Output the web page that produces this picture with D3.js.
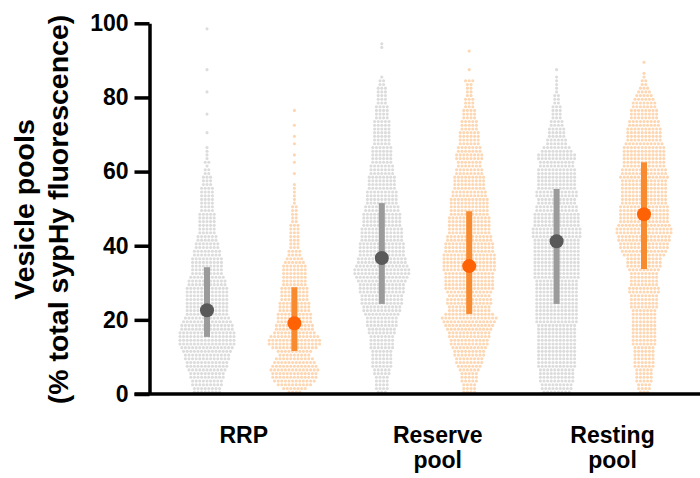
<!DOCTYPE html>
<html>
<head>
<meta charset="utf-8">
<script src="https://cdn.jsdelivr.net/npm/d3@7"></script>
<style>
  html, body { margin: 0; padding: 0; background: #fff; }
  svg { display: block; font-family: "Liberation Sans", Arial, sans-serif; }
</style>
</head>
<body>
<svg id="chart" width="700" height="478"></svg>
<script>
// categories and y ticks
const categories = ["RRP", "Reserve pool", "Resting pool"];
const yTicks = [0, 20, 40, 60, 80, 100];

// number of cells per 1-% bin, starting at bin 0-1
const rrpGrey = [8,8,9,9,10,10,11,12,12,13,13,14,15,16,16,16,16,15,15,14,13,12,12,12,12,12,12,12,12,11,
  11,10,9,9,9,9,9,8,8,7,7,6,6,5,5,5,5,5,5,4,4,4,4,4,4,4,3,3,3,2,2,1,2,1,1,1,1,0,0,0,
  1,0,0,0,0,1,0,0,0,0,0,1,0,0,0,0,0,1,0,0,0,0,0,0,0,0,0,0,1];
const rrpOrange = [4,7,10,12,13,13,14,13,12,11,9,10,13,15,15,14,12,11,11,10,10,10,9,9,9,8,8,8,8,7,
  7,7,7,7,7,6,5,4,4,3,3,3,3,3,3,3,2,2,2,2,2,1,1,1,1,1,1,0,0,1,0,0,1,0,1,0,0,1,0,1,
  0,0,1,0,0,0,1];
const reserveGrey = [3,4,4,4,4,5,5,6,6,6,6,6,7,7,7,7,8,8,9,9,9,10,11,11,12,12,12,13,13,13,
  14,15,16,16,15,14,14,13,13,13,13,12,12,12,12,11,11,11,11,10,10,9,9,9,9,8,8,8,8,7,
  7,7,6,6,6,6,6,5,5,5,5,5,5,5,4,4,4,4,3,3,3,3,3,2,2,1,0,0,0,0,0,0,0,1,1];
const reserveOrange = [4,4,4,5,5,5,6,7,8,8,9,9,10,11,11,12,12,13,14,15,16,14,12,12,13,13,12,13,14,14,
  14,14,14,15,15,15,15,15,14,14,14,13,13,12,12,12,12,12,11,11,11,11,11,10,10,9,9,9,9,8,
  8,7,7,8,8,7,7,6,6,6,6,5,5,5,4,4,4,3,3,3,2,2,2,2,3,0,0,1,0,0,0,0,1];
const restingGrey = [8,9,9,10,10,10,10,11,11,11,11,11,11,11,11,11,11,11,11,12,12,12,12,12,12,12,12,12,12,12,
  12,13,13,13,13,13,13,13,13,13,13,13,14,14,14,13,13,13,13,12,12,11,11,12,12,11,11,11,11,11,
  11,10,10,11,11,9,8,6,6,5,5,5,4,4,3,3,3,3,2,2,2,1,1,1,1,1,0,1];
const restingOrange = [3,4,4,5,5,5,5,6,6,6,6,6,6,7,7,7,7,7,7,7,7,7,7,8,8,8,8,9,9,8,
  8,8,8,9,10,10,10,12,13,14,14,15,15,16,16,15,14,14,14,14,14,13,13,13,13,13,13,13,14,13,
  13,12,12,12,12,12,12,11,10,10,10,10,9,9,8,8,8,7,7,6,5,4,3,2,2,1,1,0,0,1];

// median and interquartile bar per group (grey, orange for each category)
const medians = [22.6, 19.1, 36.7, 34.5, 41.2, 48.5];
const lowerBars = [15.4, 11.6, 24.3, 21.6, 24.3, 33.7];
const upperBars = [34.2, 28.8, 51.5, 49.3, 55.3, 62.5];

const series = [rrpGrey, rrpOrange, reserveGrey, reserveOrange, restingGrey, restingOrange];
const palette = {
  grey:   { cell: "#dcdcdc", bar: "#9b9b9b", dot: "#595959" },
  orange: { cell: "#fdd6b2", bar: "#f88b30", dot: "#ff6205" }
};

const svg = d3.select("#chart");

const y = d3.scaleLinear().domain([0, 100]).range([394, 23.3]);
const x = d3.scaleLinear().domain([0, 5]).range([207, 644]);   // six swarm slots
const labelSlot = [0.42, 2.64, 4.64];

const groups = series.map((counts, i) => ({
  idx: i,
  tone: i % 2 === 0 ? "grey" : "orange",
  counts: counts,
  median: medians[i], lo: lowerBars[i], hi: upperBars[i]
}));

// each bin becomes one row of dots, centred on the slot
const dx = 3.6;
const cells = [];
groups.forEach(g => {
  g.counts.forEach((n, v) => {
    for (let k = 0; k < n; k++) {
      cells.push({ g: g, value: v + 0.5, off: (k - (n - 1) / 2) * dx });
    }
  });
});

svg.append("g")
  .selectAll("circle")
  .data(cells)
  .join("circle")
    .attr("cx", d => x(d.g.idx) + d.off)
    .attr("cy", d => y(d.value))
    .attr("r", 1.55)
    .attr("fill", d => palette[d.g.tone].cell);

const summary = svg.append("g")
  .selectAll("g")
  .data(groups)
  .join("g");

summary.append("line")
    .attr("x1", d => x(d.idx))
    .attr("x2", d => x(d.idx))
    .attr("y1", d => y(d.lo))
    .attr("y2", d => y(d.hi))
    .attr("stroke", d => palette[d.tone].bar)
    .attr("stroke-width", 6);

summary.append("circle")
    .attr("cx", d => x(d.idx))
    .attr("cy", d => y(d.median))
    .attr("r", 7)
    .attr("fill", d => palette[d.tone].dot);

// axes
const yAxis = svg.append("g")
    .attr("transform", "translate(149.5,0)")
    .call(d3.axisLeft(y).tickValues(yTicks).tickSize(15).tickSizeOuter(0).tickPadding(6));

yAxis.select(".domain").attr("stroke", "#000").attr("stroke-width", 3.5);
yAxis.selectAll(".tick line").attr("stroke", "#000").attr("stroke-width", 3.5);
yAxis.selectAll(".tick text")
    .attr("fill", "#000")
    .style("font-size", "23px")
    .style("font-weight", "bold")
    .style("font-family", "'Liberation Sans', Arial, sans-serif");

svg.append("line")
    .attr("x1", 134.5)
    .attr("x2", 700)
    .attr("y1", y(0))
    .attr("y2", y(0))
    .attr("stroke", "#000")
    .attr("stroke-width", 3.5);

// category labels
const catLabel = svg.append("g")
  .selectAll("text")
  .data(categories)
  .join("text")
    .attr("x", (d, i) => x(labelSlot[i]))
    .attr("y", 443)
    .attr("text-anchor", "middle")
    .style("font-size", "23px")
    .style("font-weight", "bold");

catLabel.each(function(d) {
  const t = d3.select(this);
  d.split(" ").forEach((w, j) => {
    t.append("tspan")
      .attr("x", t.attr("x"))
      .attr("dy", j === 0 ? 0 : 25)
      .text(w);
  });
});

// y title
const titleLines = ["Vesicle pools", "(% total sypHy fluorescence)"];
svg.append("g")
  .selectAll("text")
  .data(titleLines)
  .join("text")
    .attr("transform", "rotate(-90)")
    .attr("x", -209.5)
    .attr("y", (d, i) => i === 0 ? 33.5 : 68)
    .attr("text-anchor", "middle")
    .style("font-size", "28.5px")
    .style("font-weight", "bold")
    .text(d => d);
</script>
</body>
</html>
